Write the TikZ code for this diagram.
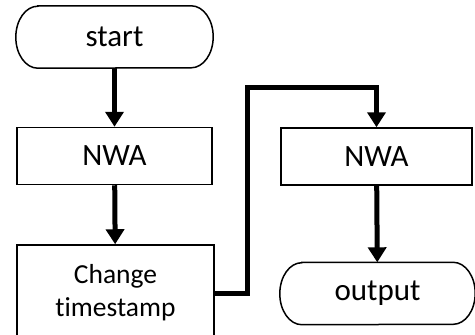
\documentclass[tikz,border=0pt]{standalone}
\usepackage{fontspec}
\setmainfont{Carlito}[Ligatures=NoCommon]
\usepackage{tikz}
\usetikzlibrary{arrows.meta}
\usetikzlibrary{shapes,positioning,calc}

\tikzset{
	box/.style={draw,line width=1.5pt,inner sep=0pt,align=center,font=\fontsize{31}{36}\selectfont},
	termbox/.style={inner sep=0pt,font=\fontsize{31}{36}\selectfont,minimum height=62pt},
	flow/.style={line width=5pt,-{Triangle[length=15pt,width=18pt]}}
}
\newcommand{\termline}[1]{\draw[line width=1.5pt] ([xshift=22pt]#1.north west) -- ([xshift=-22pt]#1.north east)
	arc[start angle=90,end angle=-90,x radius=22pt,y radius=31pt] -- ([xshift=22pt]#1.south west)
	arc[start angle=270,end angle=90,x radius=22pt,y radius=31pt] -- cycle;}

\begin{document}
\begin{tikzpicture}[x=1pt,y=-1pt]
			\useasboundingbox (0,0) rectangle (475,335);
			\clip (0,0) rectangle (475,335);
			\node[termbox,minimum width=197pt] (start) at (114.5,37) {start};
			\termline{start}
			\node[box,minimum width=195pt,minimum height=57pt] (nwa1) at (114.5,156) {NWA};
			\node[box,minimum width=197pt,minimum height=96pt,font=\fontsize{27.5}{33}\selectfont] (change) at (115.5,293) {Change\\timestamp};
			\node[box,minimum width=191pt,minimum height=57pt] (nwa2) at (376.5,156.5) {NWA};
			\node[termbox,minimum width=195pt] (output) at (377.5,293.5) {output};
			\termline{output}
			\coordinate (bend) at (247,87);
			\draw[flow] (start) -- (nwa1);
			\draw[flow] (nwa1) -- (change);
			\draw[flow] (change.east) -| (bend) -| (nwa2.north);
			\draw[flow] (nwa2) -- (output);
		\end{tikzpicture}
\end{document}
